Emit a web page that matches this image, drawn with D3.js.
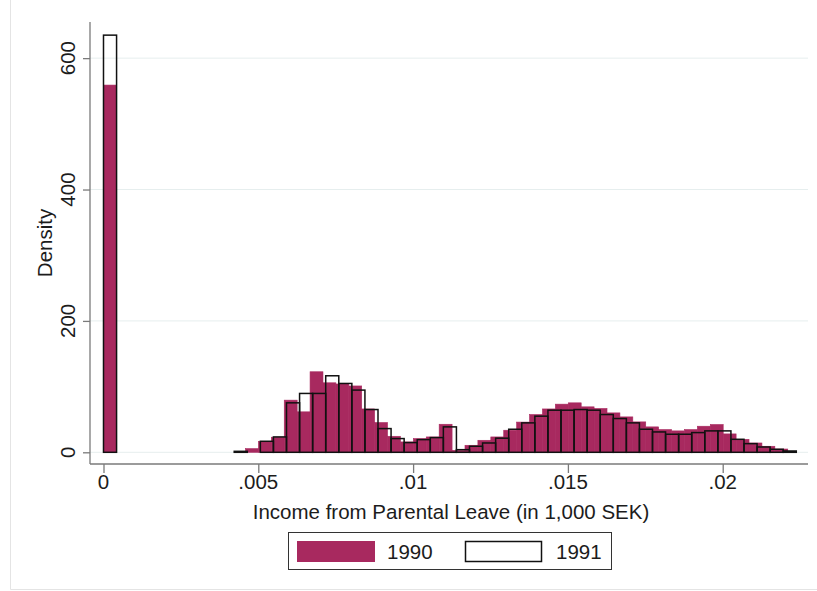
<!DOCTYPE html>
<html>
<head>
<meta charset="utf-8">
<script src="https://cdn.jsdelivr.net/npm/d3@7"></script>
<style>
  html, body { margin: 0; padding: 0; background: #fff; }
  svg { display: block; font-family: "Liberation Sans", Arial, sans-serif; }
</style>
</head>
<body>
<svg id="chart" width="817" height="591"></svg>
<script>
// Histogram densities, one value per bin (53 bins each, starting at 0)
const binWidth1990 = 0.000417;
const binWidth1991 = 0.0004222;
const density1990 = [
  559, 0, 0, 0, 0, 0, 0, 0, 0, 0,
  0, 5.6, 16.5, 23, 79.4, 61.6, 122.6, 105.8, 104, 101,
  66, 45.3, 24.4, 15.8, 20.9, 23.4, 42.7, 3, 10.7, 18.3,
  23.4, 33.6, 46, 57.5, 66, 73.3, 75.3, 69.2, 66.7, 60,
  53.9, 46.3, 38.7, 34.6, 32.6, 34.6, 39.7, 42.3, 28, 19.8,
  14.2, 9.2, 5
];
const density1991 = [
  635, 0, 0, 0, 0, 0, 0, 0, 0, 0,
  1.5, 0, 16.8, 23.4, 75.3, 89.6, 89.6, 116.5, 104.8, 94.7,
  65.1, 36.1, 20.9, 14.8, 19.3, 22.4, 38.7, 4, 9.2, 14.2,
  21.5, 35.1, 44.8, 55, 64.1, 64.1, 65.1, 64.1, 57.5, 51.4,
  44.8, 35.1, 31, 27.5, 27.5, 30, 32.6, 32.6, 19.8, 13.2,
  8.1, 4.6, 2
];
const xTicks = [0, 0.005, 0.01, 0.015, 0.02];
const xTickLabels = ["0", ".005", ".01", ".015", ".02"];
const yTicks = [0, 200, 400, 600];
const seriesNames = ["1990", "1991"];

const maroon = "#a8295f";
const textColor = "#1c1c1c";
const fontSize = 20.5;
const svg = d3.select("#chart");

// plot region
const plotL = 90, plotR = 808, plotT = 22, plotB = 464;
const x = d3.scaleLinear().domain([-0.000436, 0.022755]).range([plotL, plotR]);
const y = d3.scaleLinear().domain([-17.8, 655]).range([plotB, plotT]);

// faint outer frame of the graph region
svg.append("path")
  .attr("d", "M10.5,0 V589.5 H817")
  .attr("fill", "none").attr("stroke", "#e4e4e4").attr("stroke-width", 1);

// horizontal gridlines
svg.append("g").selectAll("line").data(yTicks).join("line")
  .attr("x1", plotL).attr("x2", plotR)
  .attr("y1", d => y(d)).attr("y2", d => y(d))
  .attr("stroke", "#e6eeee").attr("stroke-width", 1);

function bins(values, w) {
  return values.map((v, i) => ({ x0: i * w, x1: (i + 1) * w, v }))
    .filter(d => d.v > 0);
}

// 1990: filled bars
svg.append("g").selectAll("rect").data(bins(density1990, binWidth1990)).join("rect")
  .attr("x", d => x(d.x0))
  .attr("width", d => x(d.x1) - x(d.x0))
  .attr("y", d => y(d.v))
  .attr("height", d => y(0) - y(d.v))
  .attr("fill", maroon).attr("stroke", maroon).attr("stroke-width", 0.6);

// 1991: outlined bars
svg.append("g").selectAll("rect").data(bins(density1991, binWidth1991)).join("rect")
  .attr("x", d => x(d.x0))
  .attr("width", d => x(d.x1) - x(d.x0))
  .attr("y", d => y(d.v))
  .attr("height", d => Math.max(0.5, y(0) - y(d.v)))
  .attr("fill", "none").attr("stroke", "#111").attr("stroke-width", 1.5);

// axes
const axisColor = "#7a7a7a";
const yAxis = svg.append("g").attr("transform", `translate(${plotL},0)`)
  .call(d3.axisLeft(y).tickValues(yTicks).tickSize(7).tickFormat(""));
const xAxis = svg.append("g").attr("transform", `translate(0,${plotB})`)
  .call(d3.axisBottom(x).tickValues(xTicks).tickSize(9).tickFormat(""));
yAxis.select(".domain").attr("d", `M0,${plotT}V${plotB}`);
xAxis.select(".domain").attr("d", `M${plotL},0H${plotR}`);
[yAxis, xAxis].forEach(a => {
  a.select(".domain").attr("stroke", axisColor).attr("stroke-width", 1.3);
  a.selectAll(".tick line").attr("stroke", axisColor).attr("stroke-width", 1.3);
});

// y tick labels, rotated
svg.append("g").selectAll("text").data(yTicks).join("text")
  .attr("transform", d => `translate(75,${y(d)}) rotate(-90)`)
  .attr("text-anchor", "middle")
  .attr("font-size", fontSize).attr("fill", textColor)
  .text(d => d);

// x tick labels
svg.append("g").selectAll("text").data(xTicks).join("text")
  .attr("x", d => x(d)).attr("y", 488.5)
  .attr("text-anchor", "middle")
  .attr("font-size", fontSize).attr("fill", textColor)
  .text((d, i) => xTickLabels[i]);

// axis titles
svg.append("text")
  .attr("transform", `translate(52,${(plotT + plotB) / 2}) rotate(-90)`)
  .attr("text-anchor", "middle").attr("font-size", fontSize).attr("fill", textColor)
  .text("Density");
svg.append("text")
  .attr("x", (plotL + plotR) / 2 + 2).attr("y", 519)
  .attr("text-anchor", "middle").attr("font-size", fontSize).attr("fill", textColor)
  .text("Income from Parental Leave (in 1,000 SEK)");

// legend
const lg = svg.append("g");
lg.append("rect").attr("x", 288.5).attr("y", 532.5).attr("width", 323).attr("height", 37)
  .attr("fill", "#fff").attr("stroke", "#333").attr("stroke-width", 1);
lg.append("rect").attr("x", 297).attr("y", 541).attr("width", 78).attr("height", 21)
  .attr("fill", maroon);
lg.append("rect").attr("x", 465.5).attr("y", 541.5).attr("width", 76).attr("height", 20)
  .attr("fill", "none").attr("stroke", "#111").attr("stroke-width", 1.5);
lg.append("text").attr("x", 387).attr("y", 559).attr("font-size", fontSize).attr("fill", textColor)
  .text(seriesNames[0]);
lg.append("text").attr("x", 556).attr("y", 559).attr("font-size", fontSize).attr("fill", textColor)
  .text(seriesNames[1]);
</script>
</body>
</html>
